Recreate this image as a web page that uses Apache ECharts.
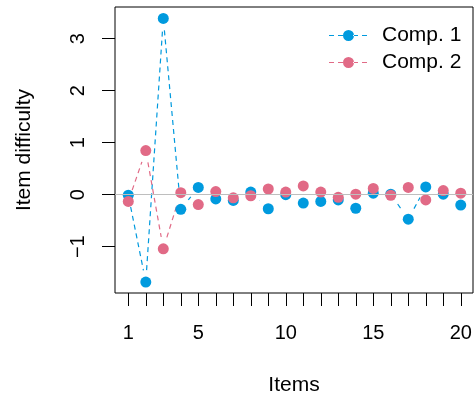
<!DOCTYPE html>
<html>
<head>
<meta charset="utf-8">
<script src="https://cdn.jsdelivr.net/npm/echarts@6/dist/echarts.min.js"></script>
<style>html,body{margin:0;padding:0;background:#fff}#c{width:474px;height:398px}</style>
</head>
<body>
<div id="c"></div>
<script>
const items = [1,2,3,4,5,6,7,8,9,10,11,12,13,14,15,16,17,18,19,20];
const comp1 = [-0.01,-1.68,3.39,-0.28,0.14,-0.08,-0.11,0.05,-0.27,0.00,-0.16,-0.13,-0.10,-0.26,0.03,0.01,-0.47,0.15,0.01,-0.20];
const comp2 = [-0.13,0.85,-1.04,0.04,-0.19,0.06,-0.06,-0.02,0.11,0.05,0.17,0.05,-0.05,0.01,0.12,-0.01,0.14,-0.10,0.08,0.03];
const xTicks = items;
const xLabels = [1,5,10,15,20];
const yTicks = [-1,0,1,2,3];
const seriesNames = ['Comp. 1','Comp. 2'];

const BLUE = '#009ADE', PINK = '#E16A86';
const FONT = 'Liberation Sans, Arial, Helvetica, sans-serif';
const GAP = 12;
const legendIcon = 'path://M0 5h5v1h-5z M9 5h5v1h-5z M24 5h5v1h-5z M33 5h5v1h-5z M14 5.5a5.5 5.5 0 1 0 11 0a5.5 5.5 0 1 0 -11 0z';

function segData(vals){
  return items.slice(0,-1).map((x,i)=>[x, vals[i], items[i+1], vals[i+1]]);
}
function gapRender(color){
  return function(params, api){
    const p1 = api.coord([api.value(0), api.value(1)]);
    const p2 = api.coord([api.value(2), api.value(3)]);
    const dx = p2[0]-p1[0], dy = p2[1]-p1[1];
    const d = Math.hypot(dx, dy);
    if (d <= 2*GAP) return {type:'group', children:[]};
    const ux = dx/d, uy = dy/d;
    return {type:'line', shape:{x1:p1[0]+ux*GAP, y1:p1[1]+uy*GAP, x2:p2[0]-ux*GAP, y2:p2[1]-uy*GAP},
      style:{stroke:color, lineWidth:1.2, lineDash:[5,4], fill:null}};
  };
}

const chart = echarts.init(document.getElementById('c'), null, {renderer:'canvas'});
chart.setOption({
  animation:false,
  backgroundColor:'#fff',
  textStyle:{fontFamily:FONT},
  grid:{left:115, top:7, right:1, bottom:105, outerBoundsMode:'none', containLabel:false,
        show:true, borderColor:'#000', borderWidth:1, backgroundColor:'transparent'},
  legend:{
    orient:'vertical', left:324, top:20, itemGap:6, itemWidth:38, itemHeight:11,
    textStyle:{fontSize:21, color:'#000', fontFamily:FONT, padding:[0,0,0,10]},
    data:[{name:seriesNames[0], icon:legendIcon},{name:seriesNames[1], icon:legendIcon}]
  },
  xAxis:{
    type:'value', min:0.24, max:20.70,
    name:'Items', nameLocation:'middle', nameGap:82,
    nameTextStyle:{fontSize:21, color:'#000', fontFamily:FONT},
    axisLine:{show:false, onZero:false},
    axisTick:{show:true, inside:false, length:13, lineStyle:{color:'#000', width:1}, customValues:xTicks},
    axisLabel:{fontSize:20, color:'#000', margin:30, fontFamily:FONT, customValues:xLabels},
    splitLine:{show:false}
  },
  yAxis:{
    type:'value', min:-1.89, max:3.61,
    name:'Item difficulty', nameLocation:'middle', nameGap:80, nameRotate:90,
    nameTextStyle:{fontSize:21, color:'#000', fontFamily:FONT},
    axisLine:{show:false, onZero:false},
    axisTick:{show:true, inside:false, length:13, lineStyle:{color:'#000', width:1}, customValues:yTicks},
    axisLabel:{fontSize:20, color:'#000', margin:27, rotate:90, fontFamily:FONT, customValues:yTicks,
      formatter:v=>String(v).replace('-','\u2212')},
    splitLine:{show:false}
  },
  series:[
    {type:'custom', name:'line1', data:segData(comp1), encode:{x:[0,2], y:[1,3]}, renderItem:gapRender(BLUE), silent:true,
     markLine:{silent:true, symbol:'none', label:{show:false}, lineStyle:{color:'#BEBEBE', type:'solid', width:1.2}, data:[{yAxis:0}]}},
    {type:'scatter', name:seriesNames[0], data:items.map((x,i)=>[x,comp1[i]]), symbol:'circle', symbolSize:11, itemStyle:{color:BLUE, opacity:1}},
    {type:'custom', name:'line2', data:segData(comp2), encode:{x:[0,2], y:[1,3]}, renderItem:gapRender(PINK), silent:true},
    {type:'scatter', name:seriesNames[1], data:items.map((x,i)=>[x,comp2[i]]), symbol:'circle', symbolSize:11, itemStyle:{color:PINK, opacity:1}}
  ]
});
</script>
</body>
</html>
